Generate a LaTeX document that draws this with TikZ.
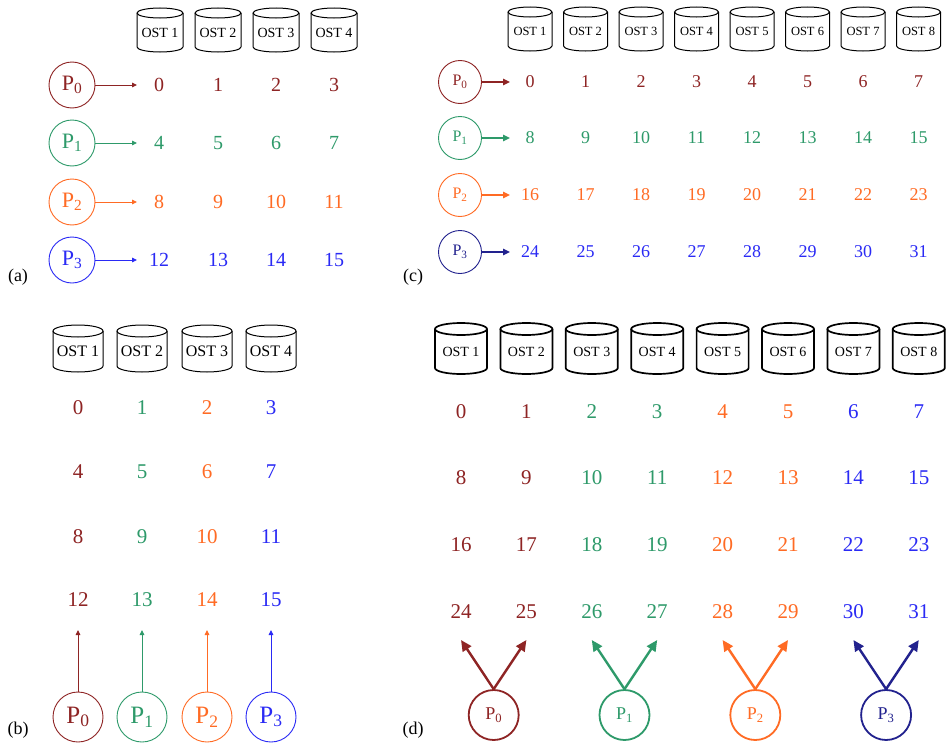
\documentclass[tikz,border=0pt]{standalone}
\usepackage{fontspec}
\setmainfont{Liberation Serif}
\usetikzlibrary{arrows.meta,calc}

\definecolor{cRed}{HTML}{8E2424}
\definecolor{cGrn}{HTML}{2E9A6A}
\definecolor{cOrg}{HTML}{FF6B24}
\definecolor{cBlu}{HTML}{2A2AF5}
\definecolor{cNav}{HTML}{22228E}

\newcommand{\fs}[1]{\fontsize{#1}{#1}\selectfont}

% a storage drum: #1 name, #2 centre x, #3 top y, #4 bottom y, #5 half width, #6 label
\newcommand{\ostdrum}[6]{%
  \draw[drum] ({#2-#5},{#3+\drumE}) -- ({#2-#5},{#4-\drumE})
    arc[start angle=180,end angle=360,x radius=#5pt,y radius=\drumE pt]
    -- ({#2+#5},{#3+\drumE});
  \draw[drum] (#2,{#3+\drumE}) ellipse[x radius=#5pt,y radius=\drumE pt];
  \node[drumtext] (#1) at (#2,{(#3+#4)/2+\drumE/2}) {#6};
}
\def\drumE{5}

\begin{document}
\begin{tikzpicture}[x=1pt,y=-1pt,
  drum/.style={draw=black,line width=1pt},
  drumtext/.style={inner sep=0pt,font=\fs{14}},
  num/.style={inner sep=1pt},
  proc/.style={circle,draw,line width=0.9pt,inner sep=0pt},
  thinarrow/.style={line width=0.9pt,-{Triangle[length=5pt,width=4.5pt]}},
  bigarrow/.style={line width=2.4pt,-{Triangle[length=11pt,width=10pt]}},
  tag/.style={font=\fs{18},inner sep=0pt}]

\fill[white] (0,0) rectangle (951,744);

% ---------------- (a) ----------------
\tikzset{drumtext/.append style={font=\fs{14}}}
\def\drumE{5}
\foreach \i/\x in {1/160,2/218,3/276,4/334}
  {\ostdrum{aost\i}{\x}{8}{52}{23}{OST \i}}
\foreach \r/\c/\y in {0/cRed/85,1/cGrn/143,2/cOrg/202,3/cBlu/260}{
  \foreach \k/\x in {0/159,1/218,2/276,3/334}{
    \pgfmathtruncatemacro\n{4*\r+\k}
    \node[num,text=\c,font=\fs{20}] (a\n) at (\x,\y) {\n};
  }
  \node[proc,draw=\c,text=\c,minimum size=46pt,font=\fs{22}] (ap\r) at (72,\y) {P\textsubscript{\r}};
  \pgfmathtruncatemacro\m{4*\r}
  \draw[thinarrow,\c] (ap\r) -- ($(a\m)+(-22,0)$);
}
\node[tag] (la) at (18,277) {(a)};

% ---------------- (c) ----------------
\tikzset{drumtext/.append style={font=\fs{12.5}}}
\foreach \i in {1,...,8}{
  \pgfmathsetmacro\x{530+55.5*(\i-1)}
  \ostdrum{cost\i}{\x}{7}{51}{22}{OST \i}
}
\foreach \r/\c/\pc/\y in {0/cRed/cRed/82,1/cGrn/cGrn/138,2/cOrg/cOrg/195,3/cBlu/cNav/252}{
  \foreach \k in {0,...,7}{
    \pgfmathtruncatemacro\n{8*\r+\k}
    \pgfmathsetmacro\x{530+55.5*\k}
    \node[num,text=\c,font=\fs{18}] (c\n) at (\x,\y) {\n};
  }
  \node[proc,draw=\pc,text=\pc,minimum size=43pt,font=\fs{16}] (cp\r) at (460,\y) {P\textsubscript{\r}};
  \pgfmathtruncatemacro\m{8*\r}
  \draw[\pc,line width=1.5pt,-{Triangle[length=7pt,width=6.5pt]}] (cp\r) -- ($(c\m)+(-20,0)$);
}
\node[tag] (lc) at (413,277) {(c)};

% ---------------- (b) ----------------
\tikzset{drumtext/.append style={font=\fs{16}}}
\def\drumE{6}
\foreach \i/\x in {1/78,2/142,3/207,4/271}
  {\ostdrum{bost\i}{\x}{325}{372}{25}{OST \i}}
\foreach \k/\c/\x in {0/cRed/78,1/cGrn/142,2/cOrg/207,3/cBlu/271}{
  \foreach \r/\y in {0/408,1/472,2/537,3/600}{
    \pgfmathtruncatemacro\n{4*\r+\k}
    \node[num,text=\c,font=\fs{21}] (b\n) at (\x,\y) {\n};
  }
  \node[proc,draw=\c,text=\c,minimum size=50pt,font=\fs{25}] (bp\k) at (\x,717) {P\textsubscript{\k}};
  \pgfmathtruncatemacro\m{12+\k}
  \draw[thinarrow,\c] (bp\k) -- ($(b\m)+(0,30)$);
}
\node[tag] (lb) at (18,730) {(b)};

% ---------------- (d) ----------------
\tikzset{drumtext/.append style={font=\fs{14}},drum/.append style={line width=1.7pt}}
\foreach \i in {1,...,8}{
  \pgfmathsetmacro\x{461+65.4*(\i-1)}
  \ostdrum{dost\i}{\x}{323}{374}{26}{OST \i}
}
\foreach \k/\c in {0/cRed,1/cRed,2/cGrn,3/cGrn,4/cOrg,5/cOrg,6/cBlu,7/cBlu}{
  \foreach \r/\y in {0/412,1/478,2/545,3/612}{
    \pgfmathtruncatemacro\n{8*\r+\k}
    \pgfmathsetmacro\x{461+65.4*\k}
    \node[num,text=\c,font=\fs{21}] (d\n) at (\x,\y) {\n};
  }
}
\foreach \p/\c in {0/cRed,1/cGrn,2/cOrg,3/cNav}{
  \pgfmathsetmacro\x{493.7+130.8*\p}
  \node[proc,draw=\c,text=\c,line width=1.8pt,minimum size=50pt,font=\fs{18}] (dp\p) at (\x,715) {P\textsubscript{\p}};
  \pgfmathtruncatemacro\u{24+2*\p}
  \pgfmathtruncatemacro\v{25+2*\p}
  \draw[bigarrow,\c,shorten <=-1pt] (dp\p.north) -- ($(d\u)+(0,28)$);
  \draw[bigarrow,\c,shorten <=-1pt] (dp\p.north) -- ($(d\v)+(0,28)$);
}
\node[tag] (ld) at (413,730) {(d)};

\end{tikzpicture}
\end{document}
